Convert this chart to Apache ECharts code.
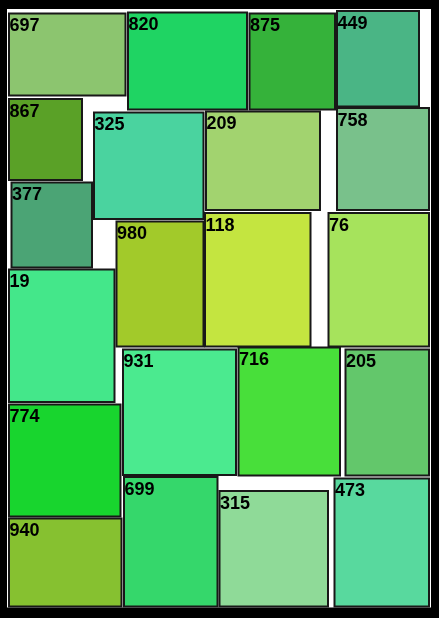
<!DOCTYPE html>
<html>
<head>
<meta charset="utf-8">
<script src="https://cdn.jsdelivr.net/npm/echarts@6/dist/echarts.min.js"></script>
<style>html,body{margin:0;padding:0;background:#000;}#c{width:439px;height:618px;}</style>
</head>
<body>
<div id="c"></div>
<script>
// Cell labels (values)
const labels = ['697','820','875','449','867','325','209','758','377','980','118','76','19','931','716','205','774','940','699','315','473'];
// Cell extents in layout units
const left   = [8,127,248.5,336,8,93,205,336,10.5,115.5,204,327.5,8,122,237.5,344.5,8,8,123,218.5,333.5];
const top_   = [12.5,11.5,12.5,10,98,111.5,110.5,107,181.5,220.5,212,212,268.5,348.5,346.5,348.5,403.5,517.5,476,490,477.5];
const right  = [126.5,248,336,420,83,204.5,321,430,93,204.5,311.5,430,115.5,237,341,430,121.5,122.5,218.5,329,430];
const bottom = [96.5,110.5,110.5,107.5,181,220,211,211,268.5,347.5,347.5,347.5,403,476,476.5,476.5,517.5,607.5,607.5,607.5,607.5];
// Cell fill colours
const colors = ['#8CC56F','#1FD463','#35B23A','#4AB585','#5AA127','#4AD39F','#A2D36F','#79C18B','#4BA475','#A2CA2A','#C4E540','#A6E35C','#44E78A','#4BEA8F','#48DF3A','#63C76B','#18D52E','#86C130','#35D76B','#8FDA98','#58D99E'];

const data = labels.map((l, i) => [left[i], top_[i], right[i], bottom[i], l]);

const chart = echarts.init(document.getElementById('c'));
chart.setOption({
  backgroundColor: '#000',
  animation: false,
  grid: { left: 7, right: 8, top: 9, bottom: 10.5, show: true, backgroundColor: '#fff', borderWidth: 0 },
  xAxis: { type: 'value', min: 7, max: 431, show: false },
  yAxis: { type: 'value', min: 9, max: 607.5, inverse: true, show: false },
  series: [{
    type: 'custom',
    data: data,
    encode: { x: [0, 2], y: [1, 3] },
    renderItem: function (params, api) {
      const p0 = api.coord([api.value(0), api.value(1)]);
      const p1 = api.coord([api.value(2), api.value(3)]);
      const i = params.dataIndex;
      return {
        type: 'group',
        children: [{
          type: 'rect',
          shape: { x: p0[0] + 1, y: p0[1] + 1, width: p1[0] - p0[0] - 2, height: p1[1] - p0[1] - 2 },
          style: { fill: colors[i], stroke: '#181818', lineWidth: 2 }
        }, {
          type: 'text',
          x: p0[0] + 1.5,
          y: p0[1] + 5,
          style: {
            text: labels[i],
            fill: '#000',
            font: 'bold 18px "Liberation Sans", Arial, sans-serif',
            textVerticalAlign: 'top',
            textAlign: 'left'
          }
        }]
      };
    }
  }]
});
</script>
</body>
</html>
